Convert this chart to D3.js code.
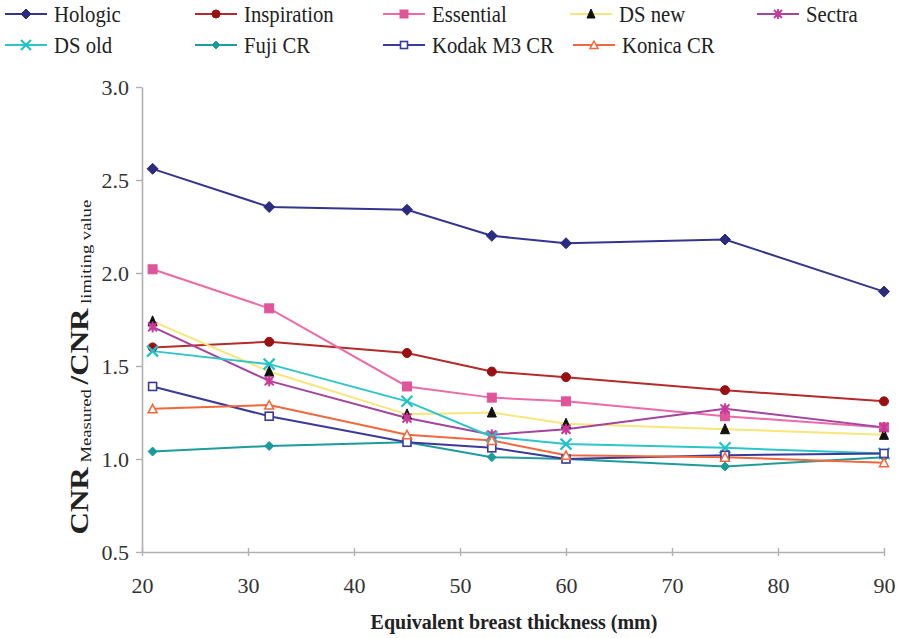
<!DOCTYPE html>
<html><head><meta charset="utf-8">
<script src="https://cdn.jsdelivr.net/npm/d3@7"></script>
<style>body{margin:0;background:#fff;}</style>
</head><body>
<svg id="c" width="903" height="638"></svg>
<script>
const thickness = [21, 32, 45, 53, 60, 75, 90];
const hologic     = [2.56, 2.355, 2.34, 2.20, 2.16, 2.18, 1.90];
const inspiration = [1.60, 1.63, 1.57, 1.47, 1.44, 1.37, 1.31];
const essential   = [2.02, 1.81, 1.39, 1.33, 1.31, 1.23, 1.17];
const dsNew       = [1.74, 1.47, 1.24, 1.25, 1.19, 1.16, 1.13];
const sectra      = [1.71, 1.42, 1.22, 1.13, 1.16, 1.27, 1.17];
const dsOld       = [1.58, 1.51, 1.31, 1.12, 1.08, 1.06, 1.03];
const fujiCR      = [1.04, 1.07, 1.09, 1.01, 1.00, 0.96, 1.01];
const kodakM3CR   = [1.39, 1.23, 1.09, 1.06, 1.00, 1.02, 1.03];
const konicaCR    = [1.27, 1.29, 1.13, 1.10, 1.02, 1.01, 0.98];
const seriesNames = ["Hologic","Inspiration","Essential","DS new","Sectra","DS old","Fuji CR","Kodak M3 CR","Konica CR"];
const xTicks = [20,30,40,50,60,70,80,90];
const yTicks = [0.5,1.0,1.5,2.0,2.5,3.0];

const seriesValues = [hologic, inspiration, essential, dsNew, sectra, dsOld, fujiCR, kodakM3CR, konicaCR];
const styles = [
  {line:"#34358f", mk:"diamond", fill:"#2b2c80", stroke:"#2b2c80"},
  {line:"#b52a2a", mk:"circle", fill:"#9a0f12", stroke:"#9a0f12"},
  {line:"#ec6aa8", mk:"square", fill:"#e0559a", stroke:"#e0559a"},
  {line:"#f7e77a", mk:"triangle", fill:"#111", stroke:"#111"},
  {line:"#a3449e", mk:"star", fill:"#d9469f", stroke:"#c8389a"},
  {line:"#2cc6c9", mk:"x", fill:"none", stroke:"#22c3c8"},
  {line:"#1f9b9b", mk:"diamondS", fill:"#1a9a9a", stroke:"#1a9a9a"},
  {line:"#3a3a9a", mk:"squareO", fill:"#fff", stroke:"#3a3a9a"},
  {line:"#f2683c", mk:"triangleO", fill:"#fff", stroke:"#f2683c"}
];
const FONT = "Liberation Serif";

const svg = d3.select("#c").attr("font-family", FONT);
const x = d3.scaleLinear().domain([20,90]).range([142,884]);
const y = d3.scaleLinear().domain([0.5,3.0]).range([552,87]);

// axes
const gy = svg.append("g").attr("transform","translate(142,0)")
  .call(d3.axisLeft(y).tickValues(yTicks).tickFormat(d3.format(".1f")).tickSize(6).tickSizeOuter(0));
const gx = svg.append("g").attr("transform","translate(0,552)")
  .call(d3.axisBottom(x).tickValues(xTicks).tickSize(0).tickPadding(25).tickSizeOuter(0));
[gy,gx].forEach(g=>{
  g.attr("font-family", FONT).attr("font-size", 22);
  g.select(".domain").attr("stroke","#b0b0b0").attr("stroke-width",1.6);
  g.selectAll(".tick line").attr("stroke","#b0b0b0").attr("stroke-width",1.4);
  g.selectAll(".tick text").attr("fill","#333").attr("font-family",FONT).attr("font-size",22);
});
gy.selectAll(".tick text").attr("x",-13);
gx.selectAll(".tick").append("line").attr("y1",-4).attr("y2",4).attr("stroke","#b0b0b0").attr("stroke-width",1.4);

function marker(g, type, st, s){
  const r = s/2;
  if(type==="diamond"){ g.append("path").attr("d",`M0,${-r-1}L${r+1},0L0,${r+1}L${-r-1},0Z`).attr("fill",st.fill).attr("stroke",st.stroke); }
  else if(type==="diamondS"){ g.append("path").attr("d",`M0,${-r}L${r},0L0,${r}L${-r},0Z`).attr("fill",st.fill).attr("stroke",st.stroke); }
  else if(type==="circle"){ g.append("circle").attr("r",r).attr("fill",st.fill).attr("stroke",st.stroke); }
  else if(type==="square"){ g.append("rect").attr("x",-r).attr("y",-r).attr("width",s).attr("height",s).attr("fill",st.fill).attr("stroke",st.stroke); }
  else if(type==="squareO"){ g.append("rect").attr("x",-r+0.5).attr("y",-r+0.5).attr("width",s-1).attr("height",s-1).attr("fill",st.fill).attr("stroke",st.stroke).attr("stroke-width",1.6); }
  else if(type==="triangle"){ g.append("path").attr("d",`M0,${-r-1}L${r},${r}L${-r},${r}Z`).attr("fill",st.fill).attr("stroke",st.stroke); }
  else if(type==="triangleO"){ g.append("path").attr("d",`M0,${-r}L${r},${r-0.5}L${-r},${r-0.5}Z`).attr("fill",st.fill).attr("stroke",st.stroke).attr("stroke-width",1.5); }
  else if(type==="x"){ g.append("path").attr("d",`M${-r-1},${-r-1}L${r+1},${r+1}M${r+1},${-r-1}L${-r-1},${r+1}`).attr("stroke",st.stroke).attr("stroke-width",2.2); }
  else if(type==="star"){
    g.append("rect").attr("x",-r+1).attr("y",-r+1).attr("width",s-2).attr("height",s-2).attr("fill",st.fill).attr("opacity",0.8);
    g.append("path").attr("d",`M${-r},${-r}L${r},${r}M${r},${-r}L${-r},${r}M0,${-r-1}L0,${r+1}`).attr("stroke",st.stroke).attr("stroke-width",1.8);
  }
}

const line = d3.line().x((d,i)=>x(thickness[i])).y(d=>y(d));
seriesValues.forEach((vals,k)=>{
  svg.append("path").datum(vals).attr("d",line).attr("fill","none").attr("stroke",styles[k].line).attr("stroke-width",2);
});
seriesValues.forEach((vals,k)=>{
  vals.forEach((v,i)=>{
    const g = svg.append("g").attr("transform",`translate(${x(thickness[i])},${y(v)})`);
    marker(g, styles[k].mk, styles[k], 9);
  });
});

// legend
const legendX = [[5,195,383,570,757],[5,195,383,573]];
const legendY = [14,45];
seriesNames.forEach((name,k)=>{
  const row = k<5?0:1, col = k<5?k:k-5;
  const st = styles[k];
  const g = svg.append("g").attr("transform",`translate(${legendX[row][col]},${legendY[row]})`);
  g.append("line").attr("x1",0).attr("x2",42).attr("stroke",st.line).attr("stroke-width",2);
  marker(g.append("g").attr("transform","translate(21,0)"), st.mk, st, 8);
  const t = g.append("text").attr("x",49).attr("y",8).attr("fill","#222")
    .attr("font-family",FONT).attr("font-size",23).text(name);
  const L = t.node().getComputedTextLength();
  t.attr("textLength", L*0.9).attr("lengthAdjust","spacingAndGlyphs");
});

// axis titles
svg.append("text").attr("x",514).attr("y",629).attr("text-anchor","middle").attr("font-family",FONT)
  .attr("font-size",20).attr("font-weight","bold").attr("fill","#222")
  .text("Equivalent breast thickness (mm)");
const yt = svg.append("text").attr("font-family",FONT).attr("fill","#222");
yt.append("tspan").attr("font-size",25).attr("font-weight","bold").text("CNR");
yt.append("tspan").attr("font-size",15).attr("dy",3).text(" Measured ");
yt.append("tspan").attr("font-size",25).attr("font-weight","bold").attr("dy",-3).text("/CNR");
yt.append("tspan").attr("font-size",15).attr("dy",3).text(" limiting value");
const TL = yt.node().getComputedTextLength();
const k = 335 / TL;
yt.attr("transform",`translate(88,${367 + 335/2}) rotate(-90) scale(${k},1)`);
</script>
</body></html>
